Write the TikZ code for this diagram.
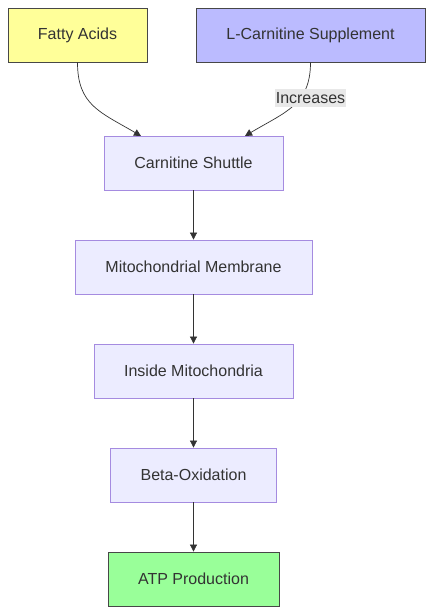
\documentclass[tikz,border=0pt]{standalone}
\usepackage{fontspec}
\setmainfont{Liberation Sans}
\usetikzlibrary{arrows.meta}
\definecolor{txt}{HTML}{333333}
\definecolor{purpleline}{HTML}{A58BE0}
\definecolor{lav}{HTML}{ECECFF}
\definecolor{yel}{HTML}{FFFF99}
\definecolor{blu}{HTML}{BBBBFF}
\definecolor{grn}{HTML}{99FF99}
\definecolor{lblbg}{HTML}{E8E8E8}
\tikzset{
  box/.style={draw=purpleline, fill=lav, line width=0.8pt, minimum height=54pt, inner sep=0pt, text=txt, font=\fontsize{16}{19}\selectfont},
  darkbox/.style={box, draw=txt!90},
  conn/.style={draw=txt, line width=0.7pt, -{Triangle[length=7pt,width=7pt]}},
  lbl/.style={fill=lblbg, text=txt, inner xsep=1pt, inner ysep=3pt, font=\fontsize{16}{19}\selectfont}
}
\begin{document}
\begin{tikzpicture}[x=1pt,y=-1pt]
\useasboundingbox (0,0) rectangle (432,614);
\node[darkbox, fill=yel, minimum width=139pt] (fa) at (77.5,35) {Fatty Acids};
\node[darkbox, fill=blu, minimum width=229pt] (lc) at (310.5,35) {L-Carnitine Supplement};
\node[box, minimum width=179pt] (cs) at (193.5,163) {Carnitine Shuttle};
\node[box, minimum width=237pt] (mm) at (193.5,267) {Mitochondrial Membrane};
\node[box, minimum width=199pt] (im) at (193.5,371) {Inside Mitochondria};
\node[box, minimum width=166pt] (bo) at (193.5,475) {Beta-Oxidation};
\node[darkbox, fill=grn, minimum width=171pt] (atp) at (193.5,579) {ATP Production};
\coordinate (csl) at (141,136);
\coordinate (csr) at (245,136);
\draw[conn] (fa.south) .. controls (77.5,105) and (100,112) .. (csl);
\draw[conn] (lc.south) .. controls (310.5,105) and (285,112) .. (csr);
\node[lbl] (inc) at (310.5,98) {Increases};
\draw[conn] (cs) -- (mm);
\draw[conn] (mm) -- (im);
\draw[conn] (im) -- (bo);
\draw[conn] (bo) -- (atp);
\end{tikzpicture}
\end{document}
